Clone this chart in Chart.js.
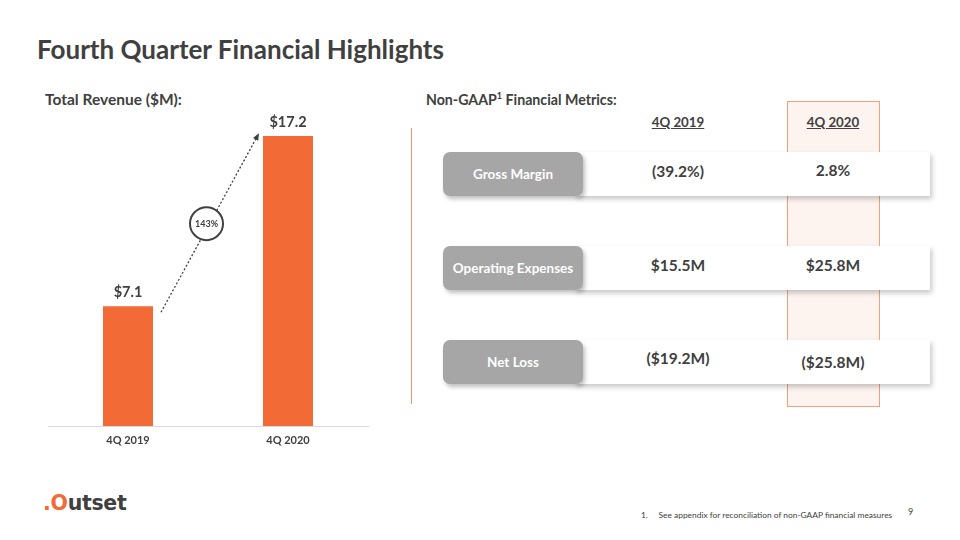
<!DOCTYPE html>
<html>
<head>
<meta charset="utf-8">
<script src="https://cdn.jsdelivr.net/npm/chart.js@4/dist/chart.umd.min.js"></script>
<style>
  html, body { margin: 0; padding: 0; background: #ffffff; }
  body { width: 960px; height: 540px; position: relative; overflow: hidden; font-family: Lato, "Open Sans", sans-serif; color: #404040; }
  .abs { position: absolute; }
  #title { left: 37px; top: 33px; font-size: 26px; font-weight: 700; color: #404040; white-space: nowrap; }
  #revTitle { left: 45px; top: 90px; font-size: 15.5px; font-weight: 700; white-space: nowrap; }
  #chartBox { left: 40px; top: 80px; width: 340px; height: 380px; }
  #metTitle { left: 426px; top: 91px; font-size: 14.2px; font-weight: 700; white-space: nowrap; }
  #metTitle sup { font-size: 9px; vertical-align: 6px; line-height: 0; }
  #vline { left: 411px; top: 128px; width: 1px; height: 276px; background: #f2956c; }
  #hcol { left: 787px; top: 101px; width: 91px; height: 304px; background: #fdf3ef; border: 1px solid #f4a07c; }
  .colHead { width: 120px; text-align: center; top: 114px; font-size: 13.3px; font-weight: 700; text-decoration: underline; white-space: nowrap; }
  .rowBox { left: 575px; width: 355px; height: 44px; background: #ffffff; box-shadow: 2px 3px 5px rgba(0,0,0,0.22); }
  .pill { left: 443px; width: 140px; height: 44px; background: #a6a6a6; border-radius: 7px; color: #ffffff; font-size: 13.5px; font-weight: 700; display: flex; align-items: center; justify-content: center; box-shadow: 2px 3px 4px rgba(0,0,0,0.25); white-space: nowrap; }
  .val { width: 140px; text-align: center; font-size: 15.5px; font-weight: 700; white-space: nowrap; }
  #logo { left: 43px; top: 491px; font-family: "DejaVu Sans", sans-serif; font-size: 20.5px; font-weight: 700; letter-spacing: -0.3px; white-space: nowrap; }
  #logo .o { color: #f26a36; }
  #foot { left: 641px; top: 510px; font-size: 8.4px; white-space: nowrap; }
  #pageNo { left: 908px; top: 506px; font-size: 9px; }
</style>
</head>
<body>
<div id="title" class="abs">Fourth Quarter Financial Highlights</div>
<div id="revTitle" class="abs">Total Revenue ($M):</div>
<div id="chartBox" class="abs"><canvas id="c"></canvas></div>

<div id="metTitle" class="abs">Non-GAAP<sup>1</sup> Financial Metrics:</div>
<div id="vline" class="abs"></div>
<div id="hcol" class="abs"></div>
<div id="metrics"></div>

<div id="logo" class="abs"><span class="o">.O</span>utset</div>
<div id="foot" class="abs">1.&nbsp;&nbsp;&nbsp;&nbsp;&nbsp;See appendix for reconciliation of non-GAAP financial measures</div>
<div id="pageNo" class="abs">9</div>

<script>
// ---- data ----
const categories = ["4Q 2019", "4Q 2020"];
const revenue = [7.1, 17.2];
const growthLabel = "143%";

const metricNames = ["Gross Margin", "Operating Expenses", "Net Loss"];
const metricPeriods = ["4Q 2019", "4Q 2020"];
const values2019 = ["(39.2%)", "$15.5M", "($19.2M)"];
const values2020 = ["2.8%", "$25.8M", "($25.8M)"];

// ---- metrics table (HTML) ----
const met = document.getElementById('metrics');
const colCenters = [678, 833];
metricPeriods.forEach((p, i) => {
  const d = document.createElement('div');
  d.className = 'abs colHead';
  d.style.left = (colCenters[i] - 60) + 'px';
  d.textContent = p;
  met.appendChild(d);
});
const rowTops = [152, 246, 340];
const valOffsets = [[10, 9], [10, 10], [9, 13]];
metricNames.forEach((name, r) => {
  const box = document.createElement('div');
  box.className = 'abs rowBox';
  box.style.top = rowTops[r] + 'px';
  met.appendChild(box);
  const pill = document.createElement('div');
  pill.className = 'abs pill';
  pill.style.top = rowTops[r] + 'px';
  pill.textContent = name;
  met.appendChild(pill);
  [values2019[r], values2020[r]].forEach((v, c) => {
    const t = document.createElement('div');
    t.className = 'abs val';
    t.style.left = (colCenters[c] - 70) + 'px';
    t.style.top = (rowTops[r] + valOffsets[r][c]) + 'px';
    t.textContent = v;
    met.appendChild(t);
  });
});

// ---- chart ----
const TEXT = '#404040';
const annot = {
  id: 'annot',
  afterDatasetsDraw(chart) {
    const ctx = chart.ctx;
    const bars = chart.getDatasetMeta(0).data;
    ctx.save();
    ctx.fillStyle = TEXT;
    ctx.font = '700 14.5px Lato, "Open Sans", sans-serif';
    ctx.textAlign = 'center';
    ctx.textBaseline = 'middle';
    bars.forEach((b, i) => {
      ctx.fillText('$' + revenue[i].toFixed(1), b.x, b.y - 14);
    });
    // dotted arrow
    const x0 = bars[0].x + 33, y0 = bars[0].y + 6;
    const x1 = bars[1].x - 30, y1 = bars[1].y - 1;
    ctx.strokeStyle = TEXT;
    ctx.lineWidth = 1.3;
    ctx.setLineDash([2, 2]);
    ctx.beginPath(); ctx.moveTo(x0, y0); ctx.lineTo(x1, y1); ctx.stroke();
    ctx.setLineDash([]);
    const ang = Math.atan2(y1 - y0, x1 - x0);
    ctx.beginPath();
    ctx.moveTo(x1 + 2 * Math.cos(ang), y1 + 2 * Math.sin(ang));
    ctx.lineTo(x1 - 5 * Math.cos(ang) + 3 * Math.sin(ang), y1 - 5 * Math.sin(ang) - 3 * Math.cos(ang));
    ctx.lineTo(x1 - 5 * Math.cos(ang) - 3 * Math.sin(ang), y1 - 5 * Math.sin(ang) + 3 * Math.cos(ang));
    ctx.closePath(); ctx.fill();
    // circle
    const cx = (x0 + x1) / 2 - 3, cy = (y0 + y1) / 2;
    ctx.beginPath(); ctx.arc(cx, cy, 16.5, 0, Math.PI * 2);
    ctx.fillStyle = '#ffffff'; ctx.fill();
    ctx.lineWidth = 2; ctx.strokeStyle = TEXT; ctx.stroke();
    ctx.fillStyle = TEXT;
    ctx.font = '700 9px Lato, "Open Sans", sans-serif';
    ctx.fillText(growthLabel, cx, cy + 0.5);
    ctx.restore();
  }
};

new Chart(document.getElementById('c'), {
  type: 'bar',
  data: {
    labels: categories,
    datasets: [{
      data: revenue,
      backgroundColor: '#f26a36',
      borderWidth: 0,
      categoryPercentage: 1,
      barPercentage: 0.3125
    }]
  },
  options: {
    responsive: true,
    maintainAspectRatio: false,
    animation: false,
    layout: { padding: { left: 8, right: 12, top: 8.8, bottom: 4.8 } },
    plugins: { legend: { display: false }, tooltip: { enabled: false } },
    scales: {
      x: {
        grid: { display: false, drawTicks: false },
        border: { display: true, color: '#d9d9d9', width: 1 },
        ticks: { color: TEXT, padding: 8, font: { family: 'Lato, "Open Sans", sans-serif', size: 11, weight: '700' } }
      },
      y: { display: false, min: 0, max: 20 }
    }
  },
  plugins: [annot]
});
</script>
</body>
</html>
